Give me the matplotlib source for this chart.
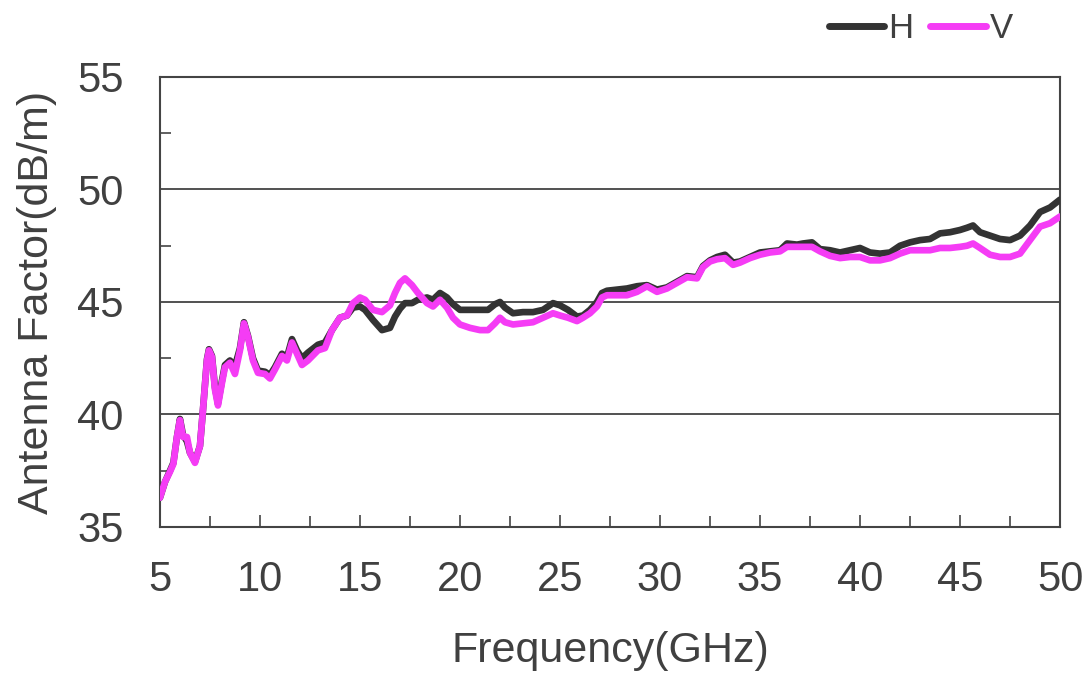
import matplotlib

matplotlib.use("Agg")

import matplotlib.pyplot as plt
from matplotlib.ticker import MultipleLocator

plt.rcParams["font.family"] = ["Liberation Sans", "DejaVu Sans"]

# frequency grid (GHz)
freq = [
    5.0, 5.25, 5.5, 5.67, 5.85, 6.0, 6.15, 6.35, 6.5, 6.75,
    7.0, 7.15, 7.35, 7.45, 7.6, 7.75, 7.9, 8.1, 8.25, 8.5,
    8.75, 9.0, 9.2, 9.4, 9.65, 9.9, 10.25, 10.5, 10.75, 11.1,
    11.35, 11.6, 11.85, 12.1, 12.4, 12.9, 13.25, 13.6, 14.0, 14.35,
    14.65, 15.0, 15.25, 15.65, 16.1, 16.5, 16.75, 17.0, 17.25, 17.6,
    17.9, 18.35, 18.65, 19.0, 19.35, 19.65, 20.0, 20.5, 21.0, 21.4,
    21.75, 22.0, 22.25, 22.65, 23.15, 23.65, 24.15, 24.65, 25.0, 25.4,
    25.85, 26.15, 26.5, 26.85, 27.1, 27.35, 27.85, 28.35, 28.85, 29.35,
    29.85, 30.35, 30.85, 31.35, 31.85, 32.15, 32.5, 32.85, 33.25, 33.65,
    34.0, 34.5, 35.0, 35.5, 36.0, 36.35, 36.85, 37.15, 37.6, 38.0,
    38.5, 39.0, 39.5, 40.0, 40.5, 41.0, 41.5, 42.0, 42.5, 43.0,
    43.5, 44.0, 44.5, 45.0, 45.35, 45.65, 46.0, 46.5, 47.0, 47.5,
    48.0, 48.5, 49.0, 49.5, 50.0,
]

# horizontal polarisation, dB/m
af_h = [
    36.3, 37.0, 37.5, 37.85, 39.0, 39.8, 39.1, 38.8, 38.3, 37.9,
    38.6, 40.2, 42.45, 42.9, 42.6, 41.2, 40.5, 41.5, 42.2, 42.4,
    42.15, 42.95, 44.1, 43.5, 42.5, 41.95, 41.9, 41.75, 42.1, 42.7,
    42.55, 43.35, 42.85, 42.5, 42.75, 43.1, 43.2, 43.75, 44.3, 44.4,
    44.75, 44.8, 44.65, 44.2, 43.75, 43.85, 44.35, 44.7, 44.95, 44.95,
    45.1, 45.2, 45.1, 45.4, 45.2, 44.9, 44.65, 44.65, 44.65, 44.65,
    44.9, 45.0, 44.75, 44.5, 44.55, 44.55, 44.65, 44.95, 44.85, 44.65,
    44.35, 44.4, 44.65, 45.0, 45.4, 45.5, 45.55, 45.6, 45.7, 45.75,
    45.55, 45.65, 45.9, 46.15, 46.1, 46.6, 46.85, 47.0, 47.1, 46.75,
    46.8, 47.0, 47.2, 47.25, 47.3, 47.6, 47.55, 47.6, 47.65, 47.35,
    47.3, 47.2, 47.3, 47.4, 47.2, 47.15, 47.2, 47.5, 47.65, 47.75,
    47.8, 48.05, 48.1, 48.2, 48.3, 48.4, 48.1, 47.95, 47.8, 47.75,
    47.95, 48.4, 49.0, 49.2, 49.55,
]

# vertical polarisation, dB/m
af_v = [
    36.3, 37.0, 37.45, 37.8, 39.0, 39.75, 39.0, 39.0, 38.3, 37.85,
    38.6, 40.2, 42.4, 42.85, 42.55, 41.1, 40.4, 41.4, 42.1, 42.3,
    41.8, 42.85, 44.05, 43.45, 42.4, 41.85, 41.8, 41.6, 42.0, 42.6,
    42.4, 43.2, 42.7, 42.2, 42.4, 42.85, 42.95, 43.75, 44.3, 44.4,
    44.95, 45.2, 45.1, 44.65, 44.55, 44.85, 45.4, 45.85, 46.05, 45.75,
    45.4, 44.95, 44.8, 45.1, 44.75, 44.3, 44.0, 43.85, 43.75, 43.75,
    44.05, 44.3, 44.1, 44.0, 44.05, 44.1, 44.3, 44.5, 44.4, 44.3,
    44.15, 44.3, 44.5, 44.8, 45.2, 45.3, 45.3, 45.3, 45.45, 45.7,
    45.45, 45.6, 45.85, 46.1, 46.05, 46.55, 46.8, 46.9, 46.95, 46.65,
    46.75, 46.95, 47.1, 47.2, 47.25, 47.45, 47.45, 47.45, 47.45, 47.25,
    47.05, 46.95, 47.0, 47.0, 46.85, 46.85, 46.95, 47.15, 47.3, 47.3,
    47.3, 47.4, 47.4, 47.45, 47.5, 47.6, 47.4, 47.1, 47.0, 47.0,
    47.15, 47.75, 48.35, 48.5, 48.8,
]

text_col = "#404040"

fig = plt.figure(figsize=(10.83, 6.79), dpi=100)
ax = fig.add_axes([0.1477, 0.2239, 0.8311, 0.6627])

ax.plot(freq, af_h, color="#333333", lw=4.8, label="H", solid_capstyle="round", zorder=3)
ax.plot(freq, af_v, color="#f53cf5", lw=4.8, label="V", solid_capstyle="round", zorder=4)

ax.set_xlim(5, 50)
ax.set_ylim(35, 55)
ax.xaxis.set_major_locator(MultipleLocator(5))
ax.xaxis.set_minor_locator(MultipleLocator(2.5))
ax.yaxis.set_major_locator(MultipleLocator(5))
ax.yaxis.set_minor_locator(MultipleLocator(2.5))

for y in [40, 45, 50]:
    ax.axhline(y, color="#333333", lw=1.2, zorder=1)

for s in ax.spines.values():
    s.set_color("#444444")
    s.set_linewidth(1.5)

ax.tick_params(axis="both", which="both", direction="in", colors="#444444",
               width=1.2, labelcolor=text_col, labelsize=30)
ax.tick_params(axis="x", which="major", length=9, pad=24)
ax.tick_params(axis="x", which="minor", length=8)
ax.tick_params(axis="y", which="major", length=0, pad=26)
ax.tick_params(axis="y", which="minor", length=8)
ax.tick_params(top=False, right=False, which="both")

ax.set_xlabel("Frequency(GHz)", fontsize=31, color=text_col, labelpad=22)
ax.set_ylabel("Antenna Factor(dB/m)", fontsize=31, color=text_col, labelpad=15)

leg = fig.legend(loc="center right", bbox_to_anchor=(0.951, 0.958), ncol=2,
                 frameon=False, fontsize=25, handlelength=1.6, handletextpad=0.1,
                 columnspacing=0.5, borderpad=0)
for t in leg.get_texts():
    t.set_color(text_col)
for h in leg.legend_handles:
    h.set_linewidth(5)

fig.savefig("out.png", dpi=100)
